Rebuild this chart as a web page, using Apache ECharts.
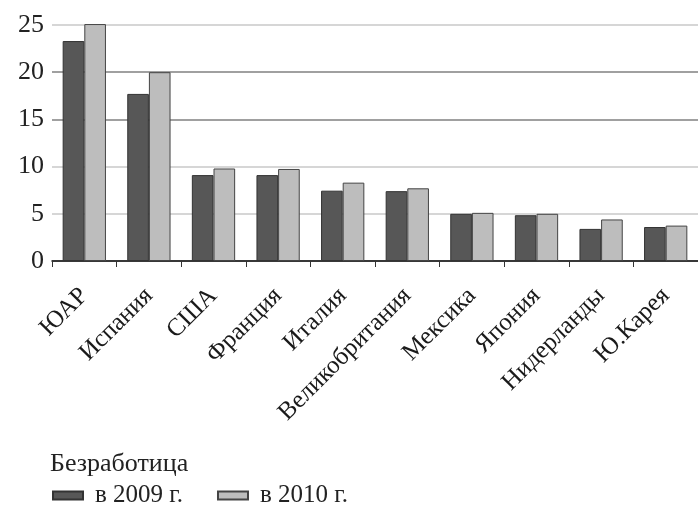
<!DOCTYPE html>
<html>
<head>
<meta charset="utf-8">
<script src="https://cdn.jsdelivr.net/npm/echarts@6/dist/echarts.min.js"></script>
<style>html,body{margin:0;padding:0;background:#fff}#c{width:698px;height:511px}</style>
</head>
<body>
<div id="c"></div>
<script>
var categories = ['ЮАР','Испания','США','Франция','Италия','Великобритания','Мексика','Япония','Нидерланды','Ю.Карея'];
var values2009 = [23.3, 17.7, 9.1, 9.1, 7.45, 7.4, 5.0, 4.85, 3.4, 3.6];
var values2010 = [25.1, 20.0, 9.8, 9.75, 8.3, 7.7, 5.1, 5.0, 4.4, 3.75];
var seriesNames = ['в 2009 г.', 'в 2010 г.'];
var legendTitle = 'Безработица';
var yTicks = [0, 5, 10, 15, 20, 25];

var font = '"Liberation Serif", "Times New Roman", serif';
var chart = echarts.init(document.getElementById('c'));
chart.setOption({
  animation: false,
  backgroundColor: '#fff',
  title: {
    text: legendTitle, left: 45, top: 446,
    textStyle: {fontFamily: font, fontSize: 26, fontWeight: 'normal', color: '#222'}
  },
  legend: {
    data: seriesNames, left: 47, top: 478, icon: 'rect',
    itemWidth: 30, itemHeight: 8, itemGap: 34,
    textStyle: {fontFamily: font, fontSize: 25, color: '#222', padding: [0,0,0,7]}
  },
  grid: {left: 52, top: 25, width: 660, height: 236, containLabel: false},
  xAxis: {
    type: 'category', data: categories,
    axisLine: {lineStyle: {color: '#111', width: 1.5}},
    axisTick: {show: true, length: 6, lineStyle: {color: '#333'}},
    axisLabel: {rotate: 45, margin: 31, fontFamily: font, fontSize: 25, color: '#1a1a1a', interval: 0}
  },
  yAxis: {
    type: 'value', min: yTicks[0], max: yTicks[yTicks.length-1], interval: 5,
    axisLine: {show: false}, axisTick: {show: false},
    axisLabel: {fontFamily: font, fontSize: 26, color: '#222', margin: 8},
    splitLine: {show: true, lineStyle: {color: ['#999','#c8c8c8','#c8c8c8','#808080','#808080','#c8c8c8'], width: 1.5}}
  },
  series: [
    {name: seriesNames[0], type: 'bar', data: values2009, barGap: '0%', barCategoryGap: '33%', clip: false,
     itemStyle: {color: '#575757', borderColor: '#333', borderWidth: 1}},
    {name: seriesNames[1], type: 'bar', data: values2010, clip: false,
     itemStyle: {color: '#bdbdbd', borderColor: '#444', borderWidth: 1}}
  ]
});
</script>
</body>
</html>
